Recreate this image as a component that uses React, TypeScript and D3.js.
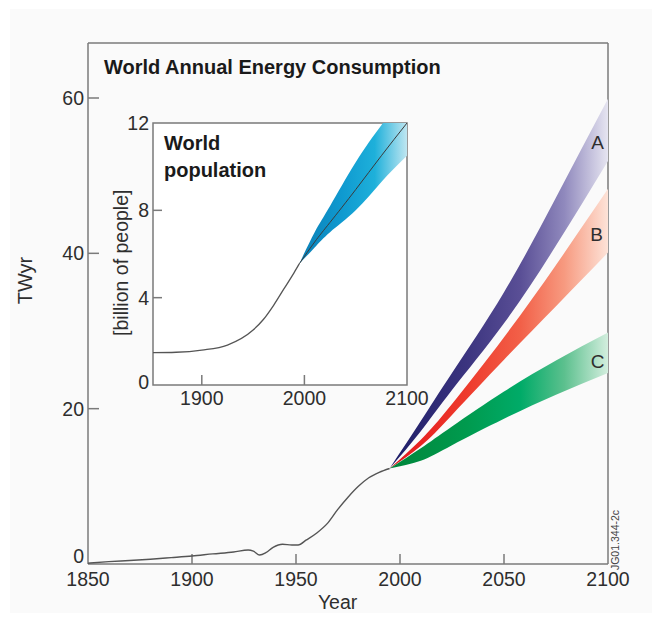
import React from 'react';
import * as d3 from 'd3';

// ---- Data ----
const energyYears = [1850, 1860, 1870, 1880, 1890, 1900, 1910, 1920, 1927, 1929.5, 1932.5, 1935.5, 1939, 1943.5, 1948, 1951, 1955, 1960, 1965, 1970, 1975, 1980, 1985, 1990, 1995];
const energyValues = [0.1, 0.3, 0.45, 0.62, 0.82, 1.03, 1.3, 1.55, 1.8, 1.65, 1.15, 1.45, 2.15, 2.55, 2.45, 2.45, 3.1, 4.0, 5.2, 7.0, 8.6, 10.0, 11.1, 11.8, 12.3];

const scenarioYears = [1995, 2010, 2025, 2050, 2075, 2100];
const scenarioALow = [12.3, 17.1, 22.4, 31.0, 41.0, 51.9];
const scenarioAHigh = [12.3, 18.4, 24.6, 35.0, 47.2, 59.9];
const scenarioBLow = [12.3, 15.2, 19.2, 26.3, 33.2, 40.1];
const scenarioBHigh = [12.3, 16.0, 20.6, 29.2, 38.5, 48.3];
const scenarioCLow = [12.3, 13.3, 15.3, 18.7, 21.8, 24.6];
const scenarioCHigh = [12.3, 14.9, 17.7, 22.2, 26.2, 29.8];
const scenarioNames = ['A', 'B', 'C'];
const scenarioLabelYear = [2095, 2094.5, 2095];
const scenarioLabelValue = [54.3, 42.5, 26.1];

const popYears = [1852, 1875, 1900, 1925, 1950, 1960, 1970, 1980, 1990, 1995];
const popValues = [1.48, 1.5, 1.6, 1.83, 2.52, 3.0, 3.65, 4.4, 5.15, 5.55];
const popProjYears = [1995, 2010, 2025, 2050, 2075, 2100];
const popLow = [5.55, 6.3, 7.0, 8.0, 9.3, 10.5];
const popMid = [5.55, 6.55, 7.45, 8.95, 10.5, 12.0];
const popHigh = [5.55, 7.0, 8.2, 10.2, 11.9, 13.4];

const mainXTicks = [1850, 1900, 1950, 2000, 2050, 2100];
const mainYTicks = [0, 20, 40, 60];
const insetXTicks = [1900, 2000, 2100];
const insetYTicks = [0, 4, 8, 12];

const FONT = "'Liberation Sans', Arial, Helvetica, sans-serif";
const TXT = '#2e2e2e';
const AXIS = '#7a7a7a';

export default function App() {
  // main plot
  const L = 88, R = 608, T = 43, B = 564;
  const x = d3.scaleLinear().domain([1850, 2100]).range([L, R]);
  const y = d3.scaleLinear().domain([0, 60]).range([B, 98]);

  // inset
  const iL = 153, iR = 407, iT = 123, iB = 385;
  const ix = d3.scaleLinear().domain([1850, 2100]).range([150.5, iR]);
  const iy = d3.scaleLinear().domain([0, 12]).range([iB, iT]);

  const energyLine = d3.line<number>()
    .x((_, i) => x(energyYears[i]))
    .y((d) => y(d))
    .curve(d3.curveMonotoneX)(energyValues) as string;

  const band = (lo: number[], hi: number[]) =>
    d3.area<number>()
      .x((_, i) => x(scenarioYears[i]))
      .y0((_, i) => y(lo[i]))
      .y1((_, i) => y(hi[i]))
      .curve(d3.curveNatural)(scenarioYears) as string;

  const bands = [
    { d: band(scenarioALow, scenarioAHigh), g: 'gA' },
    { d: band(scenarioBLow, scenarioBHigh), g: 'gB' },
    { d: band(scenarioCLow, scenarioCHigh), g: 'gC' },
  ];

  const popLine = d3.line<number>()
    .x((_, i) => ix(popYears[i]))
    .y((d) => iy(d))
    .curve(d3.curveMonotoneX)(popValues) as string;

  const popBand = d3.area<number>()
    .x((_, i) => ix(popProjYears[i]))
    .y0((_, i) => iy(popLow[i]))
    .y1((_, i) => iy(popHigh[i]))
    .curve(d3.curveNatural)(popProjYears) as string;

  const popMidLine = d3.line<number>()
    .x((_, i) => ix(popProjYears[i]))
    .y((d) => iy(d))
    .curve(d3.curveNatural)(popMid) as string;

  const g0 = x(1995), g1 = R;

  return (
    <svg width={657} height={617} style={{ position: 'absolute', left: 0, top: 0 }} fontFamily={FONT}>
      <defs>
        <linearGradient id="gA" gradientUnits="userSpaceOnUse" x1={g0} x2={g1} y1={0} y2={0}>
          <stop offset="0" stopColor="#1c1c66" />
          <stop offset="0.35" stopColor="#3b347f" />
          <stop offset="0.6" stopColor="#5a4f96" />
          <stop offset="0.8" stopColor="#9089bd" />
          <stop offset="1" stopColor="#e6e5f1" />
        </linearGradient>
        <linearGradient id="gB" gradientUnits="userSpaceOnUse" x1={g0} x2={g1} y1={0} y2={0}>
          <stop offset="0" stopColor="#e3151c" />
          <stop offset="0.35" stopColor="#ee3a2c" />
          <stop offset="0.6" stopColor="#f26048" />
          <stop offset="0.8" stopColor="#f79a80" />
          <stop offset="1" stopColor="#fde3d8" />
        </linearGradient>
        <linearGradient id="gC" gradientUnits="userSpaceOnUse" x1={g0} x2={g1} y1={0} y2={0}>
          <stop offset="0" stopColor="#00853a" />
          <stop offset="0.35" stopColor="#009a4e" />
          <stop offset="0.6" stopColor="#00ab68" />
          <stop offset="0.8" stopColor="#5cc08e" />
          <stop offset="1" stopColor="#d3eede" />
        </linearGradient>
        <linearGradient id="gP" gradientUnits="userSpaceOnUse" x1={ix(1995)} x2={iR} y1={0} y2={0}>
          <stop offset="0" stopColor="#0b7fb6" />
          <stop offset="0.4" stopColor="#0f9ad0" />
          <stop offset="0.7" stopColor="#1eb0da" />
          <stop offset="1" stopColor="#bfe6f1" />
        </linearGradient>
        <clipPath id="mainClip">
          <rect x={L} y={T} width={R - L} height={B - T} />
        </clipPath>
        <clipPath id="insetClip">
          <rect x={iL} y={iT} width={iR - iL} height={iB - iT} />
        </clipPath>
      </defs>

      <rect x={0} y={0} width={657} height={617} fill="#ffffff" />
      <rect x={10} y={9} width={642} height={604} fill="#fafafa" />

      {/* main frame */}
      <line x1={L} x2={R} y1={T} y2={T} stroke={AXIS} strokeWidth={1.5} />
      <line x1={R} x2={R} y1={T} y2={B} stroke={AXIS} strokeWidth={1.5} />
      <line x1={L} x2={L} y1={T} y2={B} stroke={AXIS} strokeWidth={1.5} />
      <line x1={L} x2={R} y1={B} y2={B} stroke={AXIS} strokeWidth={1.5} />

      {/* main ticks */}
      {mainYTicks.map((t) => (
        <g key={'my' + t}>
          {t !== 0 && <line x1={L} x2={L + 11} y1={y(t)} y2={y(t)} stroke={AXIS} strokeWidth={1.5} />}
          <text x={L - 4} y={y(t) - (t === 0 ? 8 : 0)} dy="0.36em" textAnchor="end" fontSize={19.5} fill={TXT}>{t}</text>
        </g>
      ))}
      {mainXTicks.map((t) => (
        <g key={'mx' + t}>
          {t !== 1850 && t !== 2100 && <line x1={x(t)} x2={x(t)} y1={B} y2={B - 10} stroke={AXIS} strokeWidth={1.5} />}
          <text x={x(t)} y={586} textAnchor="middle" fontSize={19.5} fill={TXT}>{t}</text>
        </g>
      ))}

      <text x={x(1970)} y={609} textAnchor="middle" fontSize={19.5} fill={TXT}>Year</text>
      <text transform={`translate(32,${y(36.5)}) rotate(-90)`} textAnchor="middle" fontSize={20} fill={TXT}>TWyr</text>

      <text x={104} y={74} fontSize={20} fontWeight="bold" fill="#1a1a1a">World Annual Energy Consumption</text>

      {/* scenario bands */}
      <g clipPath="url(#mainClip)">
        {bands.map((b) => (
          <path key={b.g} d={b.d} fill={`url(#${b.g})`} />
        ))}
        <path d={energyLine} fill="none" stroke="#555" strokeWidth={1.4} />
      </g>
      {scenarioNames.map((n, i) => (
        <text key={n} x={x(scenarioLabelYear[i])} y={y(scenarioLabelValue[i])} dy="0.36em" textAnchor="middle" fontSize={19} fill={TXT}>{n}</text>
      ))}

      <text transform={`translate(619,540) rotate(-90)`} textAnchor="middle" fontSize={10.5} fill="#444">JG01.344-2c</text>

      {/* inset */}
      <rect x={iL} y={iT} width={iR - iL} height={iB - iT} fill="#ffffff" stroke={AXIS} strokeWidth={1.5} />
      <g clipPath="url(#insetClip)">
        <path d={popBand} fill="url(#gP)" />
        <path d={popMidLine} fill="none" stroke="#3a3a3a" strokeWidth={1} />
        <path d={popLine} fill="none" stroke="#555" strokeWidth={1.3} />
      </g>
      {insetYTicks.map((t) => (
        <g key={'iy' + t}>
          {t !== 0 && t !== 12 && <line x1={iL} x2={iL + 9} y1={iy(t)} y2={iy(t)} stroke={AXIS} strokeWidth={1.5} />}
          <text x={iL - 4} y={iy(t) - (t === 0 ? 3 : 0)} dy="0.36em" textAnchor="end" fontSize={19.5} fill={TXT}>{t}</text>
        </g>
      ))}
      {insetXTicks.map((t) => (
        <g key={'ix' + t}>
          {t !== 2100 && <line x1={ix(t)} x2={ix(t)} y1={iB} y2={iB - 10} stroke={AXIS} strokeWidth={1.5} />}
          <text x={ix(t)} y={405} textAnchor="middle" fontSize={19.5} fill={TXT}>{t}</text>
        </g>
      ))}
      <text transform={`translate(128,${iy(5.6)}) rotate(-90)`} textAnchor="middle" fontSize={19.5} fill={TXT}>[billion of people]</text>
      <text x={164} y={150} fontSize={20} fontWeight="bold" fill="#1a1a1a">World</text>
      <text x={164} y={177} fontSize={20} fontWeight="bold" fill="#1a1a1a">population</text>
    </svg>
  );
}
